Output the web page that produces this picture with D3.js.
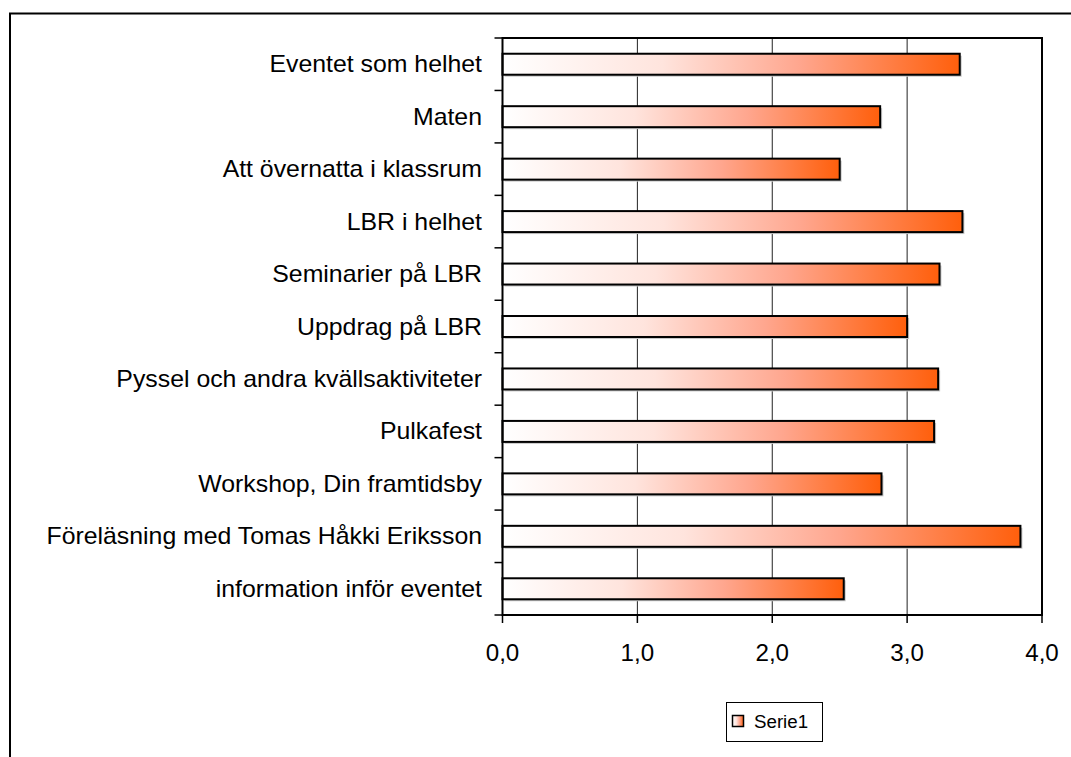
<!DOCTYPE html>
<html>
<head>
<meta charset="utf-8">
<script src="https://cdn.jsdelivr.net/npm/d3@7"></script>
<style>
  body { margin: 0; background: #fff; }
  svg { display: block; font-family: "Liberation Sans", Arial, sans-serif; }
</style>
</head>
<body>
<svg width="1071" height="757"></svg>
<script>
// categories top to bottom, as shown in the chart
var categories = [
    'Eventet som helhet',
    'Maten',
    'Att övernatta i klassrum',
    'LBR i helhet',
    'Seminarier på LBR',
    'Uppdrag på LBR',
    'Pyssel och andra kvällsaktiviteter',
    'Pulkafest',
    'Workshop, Din framtidsby',
    'Föreläsning med Tomas Håkki Eriksson',
    'information inför eventet'
];
var values = [3.39, 2.80, 2.50, 3.41, 3.24, 3.00, 3.23, 3.20, 2.81, 3.84, 2.53];
var xTicks = [0, 1, 2, 3, 4];
var seriesName = 'Serie1';

var svg = d3.select('svg');
var stretch = 1.08; // text in the original is a bit wider than normal

// plot area
var plot = { l: 502.5, r: 1042, t: 38, b: 615 };

var x = d3.scaleLinear().domain([0, 4]).range([plot.l, plot.r]);
var y = d3.scaleBand().domain(categories).range([plot.t, plot.b])
    .paddingInner(0.6).paddingOuter(0.3);

// gradient for the bars (white to orange, left to right)
var defs = svg.append('defs');
var grad = defs.append('linearGradient').attr('id', 'barGrad')
    .attr('x1', '0%').attr('x2', '100%').attr('y1', '0%').attr('y2', '0%');
grad.append('stop').attr('offset', '0%').attr('stop-color', '#ffffff');
grad.append('stop').attr('offset', '35%').attr('stop-color', '#ffe4dd');
grad.append('stop').attr('offset', '65%').attr('stop-color', '#ffa68e');
grad.append('stop').attr('offset', '100%').attr('stop-color', '#ff5f0c');

// outer chart frame (runs off the right and bottom of the picture)
svg.append('rect')
    .attr('x', 10).attr('y', 13.5)
    .attr('width', 1100).attr('height', 800)
    .attr('fill', 'none').attr('stroke', '#000').attr('stroke-width', 2);

// gridlines
svg.append('g').selectAll('line')
    .data(xTicks.filter(d => d > 0 && d < 4))
    .enter().append('line')
    .attr('x1', d => x(d)).attr('x2', d => x(d))
    .attr('y1', plot.t).attr('y2', plot.b)
    .attr('stroke', '#222').attr('stroke-width', 1);

// bar shadows
svg.append('g').selectAll('rect')
    .data(values)
    .enter().append('rect')
    .attr('x', x(0) + 2)
    .attr('y', (d, i) => y(categories[i]) + 2)
    .attr('width', d => x(d) - x(0))
    .attr('height', y.bandwidth())
    .attr('fill', '#c8c8c8');

// bars
svg.append('g').selectAll('rect')
    .data(values)
    .enter().append('rect')
    .attr('x', x(0))
    .attr('y', (d, i) => y(categories[i]))
    .attr('width', d => x(d) - x(0))
    .attr('height', y.bandwidth())
    .attr('fill', 'url(#barGrad)')
    .attr('stroke', '#000').attr('stroke-width', 2);

// plot area border
svg.append('rect')
    .attr('x', plot.l).attr('y', plot.t)
    .attr('width', plot.r - plot.l).attr('height', plot.b - plot.t)
    .attr('fill', 'none').attr('stroke', '#000').attr('stroke-width', 2);

// category ticks sit on the band boundaries
var step = y.step();
var bounds = categories.map(c => y(c) + y.bandwidth() / 2 - step / 2);
bounds.push(plot.b);
svg.append('g').selectAll('line')
    .data(bounds)
    .enter().append('line')
    .attr('x1', plot.l - 8).attr('x2', plot.l)
    .attr('y1', d => d).attr('y2', d => d)
    .attr('stroke', '#000').attr('stroke-width', 1.5);

// category labels
svg.append('g').selectAll('text')
    .data(categories)
    .enter().append('text')
    .attr('transform', d => `translate(482, ${y(d) + y.bandwidth() / 2 + 8}) scale(${stretch},1)`)
    .attr('text-anchor', 'end')
    .style('font-size', '23px')
    .attr('fill', '#000')
    .text(d => d);

// x axis ticks and labels
svg.append('g').selectAll('line')
    .data(xTicks)
    .enter().append('line')
    .attr('x1', d => x(d)).attr('x2', d => x(d))
    .attr('y1', plot.b).attr('y2', plot.b + 8)
    .attr('stroke', '#000').attr('stroke-width', 1.5);

svg.append('g').selectAll('text')
    .data(xTicks)
    .enter().append('text')
    .attr('transform', d => `translate(${x(d)}, 661) scale(1.05,1)`)
    .attr('text-anchor', 'middle')
    .style('font-size', '23px')
    .text(d => d3.format('.1f')(d).replace('.', ','));

// legend
var legend = svg.append('g');
legend.append('rect')
    .attr('x', 726.5).attr('y', 702.5).attr('width', 96).attr('height', 39)
    .attr('fill', '#fff').attr('stroke', '#000').attr('stroke-width', 1);
legend.append('rect')
    .attr('x', 732.5).attr('y', 715.5).attr('width', 11).attr('height', 11)
    .attr('fill', 'url(#barGrad)').attr('stroke', '#000').attr('stroke-width', 1.5);
legend.append('text')
    .attr('transform', `translate(754, 728) scale(1.04,1)`)
    .style('font-size', '18px')
    .text(seriesName);
</script>
</body>
</html>
